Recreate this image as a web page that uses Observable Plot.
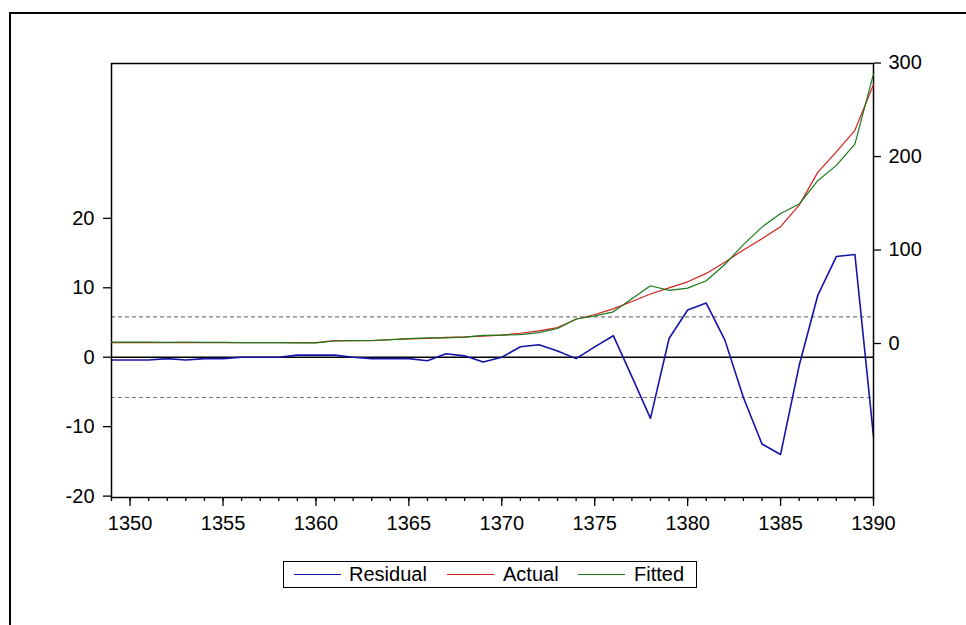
<!DOCTYPE html>
<html><head><meta charset="utf-8">
<script src="https://cdn.jsdelivr.net/npm/d3@7"></script>
<script src="https://cdn.jsdelivr.net/npm/@observablehq/plot@0.6"></script>
<style>
html,body{margin:0;padding:0;background:#fff;overflow:hidden;width:966px;height:625px}
#outer{position:absolute;left:9px;top:12px;width:2000px;height:2000px;border:2px solid #000;box-sizing:border-box}
#chart{position:absolute;left:0;top:0;width:966px;height:545px}
#chart svg{position:absolute;left:0;top:0}
#legend{position:absolute;left:283px;top:561px;width:414px;height:27px;border:1.5px solid #000;box-sizing:border-box;background:#fff;font:20px "Liberation Sans",Arial,sans-serif;color:#000}
#legend .sw{position:absolute;top:12px;width:47px;height:0;border-top:1.3px solid}
#legend .tx{position:absolute;top:0px;line-height:25px}
</style>
</head><body>
<div id="outer"></div>
<div id="chart"></div>
<div id="legend"></div>
<script>
const years = [1349,1350,1351,1352,1353,1354,1355,1356,1357,1358,1359,1360,1361,1362,1363,1364,1365,1366,1367,1368,1369,1370,1371,1372,1373,1374,1375,1376,1377,1378,1379,1380,1381,1382,1383,1384,1385,1386,1387,1388,1389,1390];
const residual = [-0.4,-0.4,-0.4,-0.2,-0.4,-0.2,-0.2,0.0,0.0,0.0,0.3,0.3,0.3,0.0,-0.2,-0.2,-0.2,-0.5,0.5,0.2,-0.7,0.0,1.5,1.8,0.9,-0.2,1.5,3.1,-2.8,-8.8,2.7,6.8,7.8,2.5,-5.8,-12.5,-14.0,-1.2,8.9,14.5,14.8,-11.4];
const actual = [1.0,1.0,1.0,1.0,1.0,1.0,1.0,1.0,1.0,1.0,1.0,1.0,3.0,3.0,3.0,4.0,5.0,5.5,6.5,7.0,8.0,9.0,11.0,13.5,17.0,26.0,31.0,37.0,45.0,53.0,59.5,66.0,75.0,87.0,100.0,112.0,125.0,148.0,183.0,205.0,228.0,277.0];
const fitted = [1.4,1.4,1.4,1.2,1.4,1.2,1.2,1.0,1.0,1.0,0.7,0.7,2.7,3.0,3.2,4.2,5.2,6.0,6.0,6.8,8.7,9.0,9.5,11.7,16.1,26.2,29.5,33.9,47.8,61.8,56.8,59.2,67.2,84.5,105.8,124.5,139.0,149.2,174.1,190.5,213.2,288.4];
const stdBand = [5.8, -5.8];
const leftTicks = [-20,-10,0,10,20];
const rightTicks = [0,100,200,300];
const majorYears = [1350,1355,1360,1365,1370,1375,1380,1385,1390];
const seriesNames = ["Residual","Actual","Fitted"];
const seriesColors = ["#1414a8","#d42020","#1a7a1a"];

const W = 966, H = 545;
const margins = {marginLeft:111, marginRight:93, marginTop:63, marginBottom:48};
const font = {fontFamily:'"Liberation Sans", Arial, sans-serif', fontSize:"20px", color:"#000", background:"transparent", overflow:"visible"};

const resData = years.map((y,i)=>({year:y, value:residual[i]}));
const avfData = [];
years.forEach((y,i)=>{avfData.push({year:y, value:actual[i], s:"Actual"});});
years.forEach((y,i)=>{avfData.push({year:y, value:fitted[i], s:"Fitted"});});

const p1 = Plot.plot({
  width:W, height:H, ...margins, style:font,
  x:{domain:[1349,1390], label:null},
  y:{domain:[-20.2,42.3], label:null},
  marks:[
    Plot.ruleY(stdBand,{stroke:"#7a7a7a", strokeWidth:1.2, strokeDasharray:"4,3"}),
    Plot.ruleY([0],{stroke:"#000", strokeWidth:1.5}),
    Plot.lineY(resData,{x:"year", y:"value", stroke:seriesColors[0], strokeWidth:1.6}),
    Plot.frame({stroke:"#000", strokeWidth:1.5}),
    Plot.axisY(leftTicks,{anchor:"left", label:null, tickSize:8, tickPadding:9, fontSize:20, tickFormat:d=>String(d), stroke:"#000", strokeWidth:1.3}),
    Plot.axisX(years,{anchor:"bottom", label:null, tickSize:4, tickFormat:()=>"", stroke:"#000", strokeWidth:1.3}),
    Plot.axisX(majorYears,{anchor:"bottom", label:null, tickSize:9, tickPadding:9, fontSize:20, tickFormat:d=>String(d), stroke:"#000", strokeWidth:1.3})
  ]
});

const p2 = Plot.plot({
  width:W, height:H, ...margins, style:font,
  x:{domain:[1349,1390], axis:null, label:null},
  y:{domain:[-164.7,299.5], label:null},
  color:{domain:seriesNames.slice(1), range:seriesColors.slice(1)},
  marks:[
    Plot.lineY(avfData,{x:"year", y:"value", stroke:"s", z:"s", strokeWidth:1.2}),
    Plot.axisY(rightTicks,{anchor:"right", label:null, tickSize:7, tickPadding:8, fontSize:20, tickFormat:d=>String(d), stroke:"#000", strokeWidth:1.3})
  ]
});

const chart = document.getElementById("chart");
chart.appendChild(p1);
chart.appendChild(p2);

const legend = document.getElementById("legend");
const swLeft = [10,163,294], txLeft = [65,219,350];
seriesNames.forEach((n,i)=>{
  const s = document.createElement("div"); s.className="sw"; s.style.left=swLeft[i]+"px"; s.style.borderTopColor=seriesColors[i]; legend.appendChild(s);
  const t = document.createElement("div"); t.className="tx"; t.style.left=txLeft[i]+"px"; t.textContent=n; legend.appendChild(t);
});
</script>
</body></html>
